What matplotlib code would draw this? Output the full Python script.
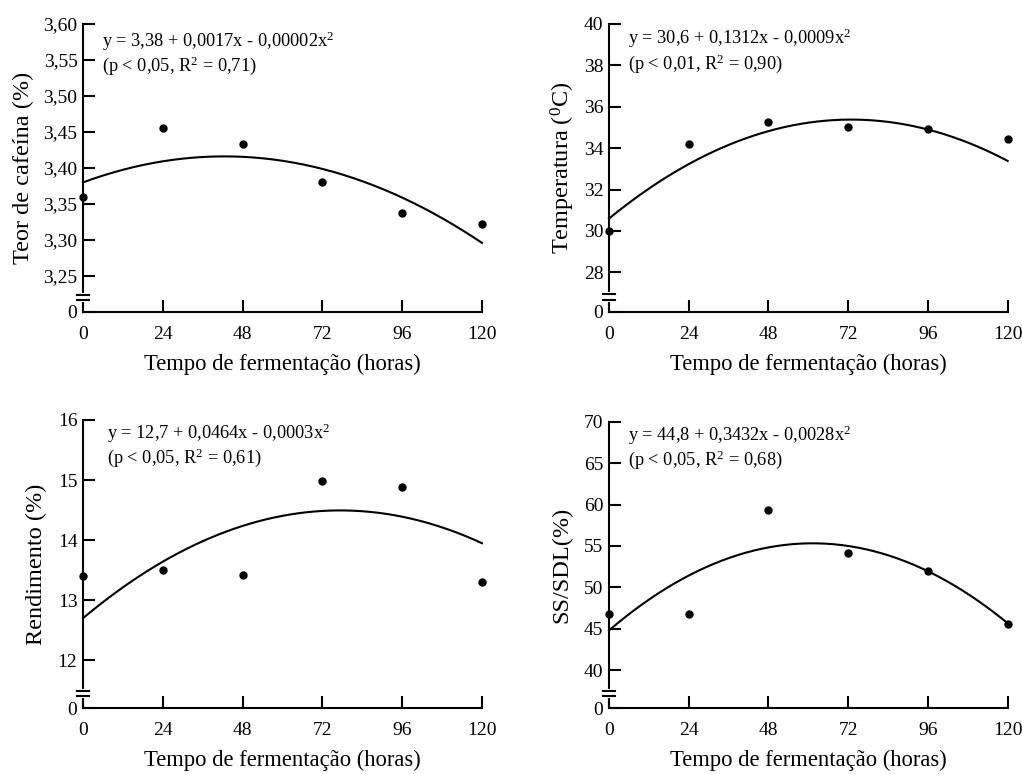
import matplotlib
matplotlib.use("Agg")
import matplotlib.pyplot as plt
import numpy as np

plt.rcParams['font.family'] = ['Liberation Serif', 'DejaVu Serif']
plt.rcParams['mathtext.fontset'] = 'custom'
plt.rcParams['mathtext.rm'] = 'Liberation Serif'
plt.rcParams['mathtext.it'] = 'Liberation Serif:italic'
plt.rcParams['mathtext.default'] = 'regular'

# fermentation time (hours)
horas = [0, 24, 48, 72, 96, 120]

cafeina = [3.360, 3.456, 3.434, 3.381, 3.338, 3.322]
temperatura = [30.0, 34.2, 35.25, 35.0, 34.92, 34.45]
rendimento = [13.40, 13.51, 13.42, 14.98, 14.89, 13.30]
ss_sdl = [46.8, 46.75, 59.3, 54.1, 52.0, 45.55]

# quadratic fit coefficients (a + b x + c x^2)
coef_cafeina = [3.38, 0.0017, -0.00002]
coef_temperatura = [30.6, 0.1312, -0.0009]
coef_rendimento = [12.7, 0.0464, -0.0003]
coef_ss_sdl = [44.8, 0.3432, -0.0028]

eq_cafeina = ["y = 3,38 + 0,0017x - 0,00002x$^2$", "(p < 0,05, R$^2$ = 0,71)"]
eq_temperatura = ["y = 30,6 + 0,1312x - 0,0009x$^2$", "(p < 0,01, R$^2$ = 0,90)"]
eq_rendimento = ["y = 12,7 + 0,0464x - 0,0003x$^2$", "(p < 0,05, R$^2$ = 0,61)"]
eq_ss_sdl = ["y = 44,8 + 0,3432x - 0,0028x$^2$", "(p < 0,05, R$^2$ = 0,68)"]

# y ticks (the bottom value is shown as "0" after the axis break)
yt_cafeina = [3.20, 3.25, 3.30, 3.35, 3.40, 3.45, 3.50, 3.55, 3.60]
yl_cafeina = ["0", "3,25", "3,30", "3,35", "3,40", "3,45", "3,50", "3,55", "3,60"]
yt_temperatura = [26.1, 28, 30, 32, 34, 36, 38, 40]
yl_temperatura = ["0", "28", "30", "32", "34", "36", "38", "40"]
yt_rendimento = [11.2, 12, 13, 14, 15, 16]
yl_rendimento = ["0", "12", "13", "14", "15", "16"]
yt_ss_sdl = [35.4, 40, 45, 50, 55, 60, 65, 70]
yl_ss_sdl = ["0", "40", "45", "50", "55", "60", "65", "70"]

fig = plt.figure(figsize=(10.22, 7.74), dpi=100)

paineis = [
    ([83/1022, 0.5969, 0.3904, 0.3721], cafeina, coef_cafeina, eq_cafeina,
     yt_cafeina, yl_cafeina, "Teor de cafeína (%)", 7, 0.048, 0.982),
    ([609/1022, 0.5973, 0.3901, 0.3717], temperatura, coef_temperatura, eq_temperatura,
     yt_temperatura, yl_temperatura, "Temperatura ($^0$C)", 5, 0.048, 0.99),
    ([83/1022, 0.0849, 0.3904, 0.3725], rendimento, coef_rendimento, eq_rendimento,
     yt_rendimento, yl_rendimento, "Rendimento (%)", 8, 0.06, 0.995),
    ([609/1022, 0.0849, 0.3901, 0.3703], ss_sdl, coef_ss_sdl, eq_ss_sdl,
     yt_ss_sdl, yl_ss_sdl, "SS/SDL(%)", 8, 0.048, 0.995),
]

xfit = np.linspace(0, 120, 200)

for pos, dados, coef, eq, yt, yl, ylabel, ypad, xtxt, ytxt in paineis:
    ax = fig.add_axes(pos)
    a, b, c = coef
    ax.plot(xfit, a + b * xfit + c * xfit ** 2, color='black', lw=1.5, clip_on=False)
    ax.plot(horas, dados, 'o', color='black', ms=5, clip_on=False, zorder=4)

    ax.set_xlim(0, 120)
    ax.set_ylim(yt[0], yt[-1])
    ax.set_xticks(horas)
    ax.set_xticklabels([str(h) for h in horas])
    ax.set_yticks(yt)
    ax.set_yticklabels(yl)

    for s in ['top', 'right']:
        ax.spines[s].set_visible(False)
    for s in ['left', 'bottom']:
        ax.spines[s].set_linewidth(1.5)
    ax.tick_params(direction='in', length=8.5, width=1.5, labelsize=14)
    ax.tick_params(axis='x', pad=10)
    ax.tick_params(axis='y', pad=4)

    ax.set_xlabel("Tempo de fermentação (horas)", fontsize=16.3, labelpad=8)
    ax.set_ylabel(ylabel, fontsize=17.5, labelpad=ypad)

    # axis break on the y axis
    ax.plot([0, 0], [0.042, 0.060], color='white', lw=3, transform=ax.transAxes,
            clip_on=False, zorder=5)
    for yb in [0.042, 0.060]:
        ax.plot([-0.016, 0.016], [yb, yb], color='black', lw=1.5,
                transform=ax.transAxes, clip_on=False, zorder=6)

    ax.text(xtxt, ytxt, eq[0] + "\n" + eq[1], transform=ax.transAxes,
            fontsize=13.2, va='top', ha='left', linespacing=1.12)

fig.savefig("out.png", dpi=100)
